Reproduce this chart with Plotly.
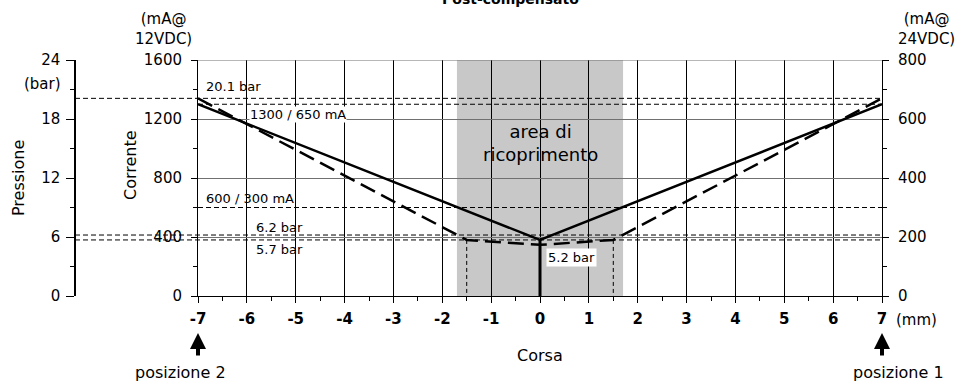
import plotly.graph_objects as go

# ---- data ----
corsa_ticks = [-7, -6, -5, -4, -3, -2, -1, 0, 1, 2, 3, 4, 5, 6, 7]
corsa_labels = ["-7", "-6", "-5", "-4", "-3", "-2", "-1", "0", "1", "2", "3", "4", "5", "6", "7"]
curr_x = [-7, 0, 7]
curr_12v = [1300, 380, 1300]          # mA @ 12VDC (left axis)
press_x = [-7, -1.5, 0, 1.5, 7]
press_bar = [20.1, 5.7, 5.2, 5.7, 20.1]  # bar
overlap = [-1.7, 1.7]                 # area di ricoprimento
ref_press = [20.1, 6.2, 5.7]          # dashed pressure references
ref_curr = [1300, 600]                # dashed current references
vert_refs = [-1.5, 1.5]

W, H = 960, 382
PL, PR, PT, PB = 75, 882, 60, 296
X0PX = 198
ML, MR, MT, MB = PL, W - PR, PT, H - PB
PW, PH = W - ML - MR, H - MT - MB


def px(xp):
    return (xp - ML) / PW


def py(yp):
    return (H - MB - yp) / PH


FONT = "DejaVu Sans"
fig = go.Figure()

fig.add_trace(go.Scatter(x=curr_x, y=curr_12v, mode="lines",
                         line=dict(color="black", width=2.5),
                         xaxis="x", yaxis="y", showlegend=False, hoverinfo="skip"))
fig.add_trace(go.Scatter(x=press_x, y=press_bar, mode="lines",
                         line=dict(color="black", width=2.5, dash="16px,7px"),
                         xaxis="x", yaxis="y2", showlegend=False, hoverinfo="skip"))
fig.add_trace(go.Scatter(x=[0, 0], y=[curr_12v[1], 0], mode="lines",
                         line=dict(color="black", width=3),
                         xaxis="x", yaxis="y", showlegend=False, hoverinfo="skip"))
for xv in vert_refs:
    fig.add_trace(go.Scatter(x=[xv, xv], y=[press_bar[1], 0], mode="lines",
                             line=dict(color="black", width=1, dash="4px,3px"),
                             xaxis="x", yaxis="y2", showlegend=False, hoverinfo="skip"))
fig.add_trace(go.Scatter(x=[0], y=[0], mode="markers", marker=dict(opacity=0),
                         xaxis="x", yaxis="y3", showlegend=False, hoverinfo="skip"))

shapes = []
shapes.append(dict(type="rect", xref="x", yref="y", x0=overlap[0], x1=overlap[1],
                   y0=0, y1=1600, fillcolor="#c8c8c8", line=dict(width=0), layer="below"))
for p in ref_press:
    shapes.append(dict(type="line", xref="paper", yref="y2", x0=0, x1=1, y0=p, y1=p,
                       line=dict(color="black", width=1, dash="5px,3px")))
for c in ref_curr:
    shapes.append(dict(type="line", xref="x", yref="y", x0=-7, x1=7, y0=c, y1=c,
                       line=dict(color="black", width=1, dash="5px,3px")))
shapes.append(dict(type="line", xref="x", yref="y", x0=-7, x1=7, y0=1600, y1=1600,
                   line=dict(color="#707070", width=1.2)))

xd0 = px(X0PX)
fig.update_layout(
    width=W, height=H,
    margin=dict(l=ML, r=MR, t=MT, b=MB, pad=0),
    plot_bgcolor="white", paper_bgcolor="white",
    font=dict(family=FONT, size=15, color="black"),
    xaxis=dict(domain=[xd0, 1], range=[-7, 7], tickvals=corsa_ticks, ticktext=corsa_labels,
               showgrid=True, gridcolor="black", gridwidth=1, zeroline=False,
               showline=True, linecolor="black", linewidth=1,
               ticks="outside", ticklen=6, tickcolor="black", ticklabelstandoff=3,
               minor=dict(dtick=0.5, tick0=0, ticks="outside", ticklen=4, tickcolor="black", showgrid=False),
               tickfont=dict(size=15, weight="bold"), fixedrange=True),
    yaxis=dict(range=[0, 1600], tickvals=[0, 400, 800, 1200, 1600],
               showgrid=True, gridcolor="#707070", gridwidth=1.2, zeroline=False,
               showline=True, linecolor="black", linewidth=1,
               ticks="outside", ticklen=6, tickcolor="black", ticklabelstandoff=6,
               minor=dict(dtick=200, tick0=0, ticks="outside", ticklen=4, tickcolor="black", showgrid=False),
               tickfont=dict(size=15), anchor="x", side="left"),
    yaxis2=dict(range=[0, 24], tickvals=[0, 6, 12, 18, 24], overlaying="y",
                anchor="free", position=0, side="left",
                showgrid=False, zeroline=False,
                showline=True, linecolor="black", linewidth=1.5,
                ticks="outside", ticklen=8, tickcolor="black", ticklabelstandoff=3,
                minor=dict(dtick=3, tick0=0, ticks="outside", ticklen=4, tickcolor="black", showgrid=False),
                tickfont=dict(size=15)),
    yaxis3=dict(range=[0, 800], tickvals=[0, 200, 400, 600, 800], overlaying="y",
                anchor="x", side="right",
                showgrid=False, zeroline=False,
                showline=True, linecolor="black", linewidth=1,
                ticks="outside", ticklen=6, tickcolor="black", ticklabelstandoff=6,
                minor=dict(dtick=100, tick0=0, ticks="outside", ticklen=4, tickcolor="black", showgrid=False),
                tickfont=dict(size=15)),
    shapes=shapes,
)

ann = []


def A(text, x, y, xref="paper", yref="paper", size=15, xanchor="center", yanchor="middle", **kw):
    ann.append(dict(text=text, x=x, y=y, xref=xref, yref=yref, showarrow=False,
                    font=dict(family=FONT, size=size, color="black"),
                    xanchor=xanchor, yanchor=yanchor, **kw))


A("<b>Post-compensato</b>", px(440), py(-1), size=14, xanchor="left")
A("(mA@<br>12VDC)", px(163), py(29), size=15)
A("(mA@<br>24VDC)", px(926), py(29), size=15)
A("(bar)", px(63), py(84), size=15, xanchor="right")
A("Pressione", px(18), py(178), size=16, textangle=-90)
A("Corrente", px(130), py(165), size=16, textangle=-90)
A("Corsa", px(540), py(355), size=16)
A("(mm)", px(894), py(320), size=15, xanchor="left")
A("posizione 2", px(180), py(372), size=16)
A("posizione 1", px(898), py(372), size=16)
A("area di<br>ricoprimento", 0, py(143), xref="x", size=18)


def dx(xp):
    return (xp - 540) / 48.857


def dy(yp):
    return (296 - yp) / (236 / 1600)


A("20.1 bar", dx(204), dy(86), xref="x", yref="y", size=13, xanchor="left")
A("1300 / 650 mA", dx(249), dy(114), xref="x", yref="y", size=13, xanchor="left", bgcolor="white", borderpad=0)
A("600 / 300 mA", dx(204), dy(198), xref="x", yref="y", size=13, xanchor="left")
A("6.2 bar", dx(254), dy(227), xref="x", yref="y", size=13, xanchor="left")
A("5.7 bar", dx(254), dy(249), xref="x", yref="y", size=13, xanchor="left")
A("5.2 bar", dx(546), dy(257), xref="x", yref="y", size=13, xanchor="left", bgcolor="white", borderpad=1)

for xa in [corsa_ticks[0], corsa_ticks[-1]]:
    ann.append(dict(text="", x=xa, y=py(333), xref="x", yref="paper", showarrow=True,
                    ax=0, ay=24, arrowhead=2, arrowsize=0.8, arrowwidth=4, arrowcolor="black"))

fig.update_layout(annotations=ann)
fig.write_html("out.html", config={"displayModeBar": False},
               post_script="document.body.style.margin='0';document.body.style.padding='0';")
